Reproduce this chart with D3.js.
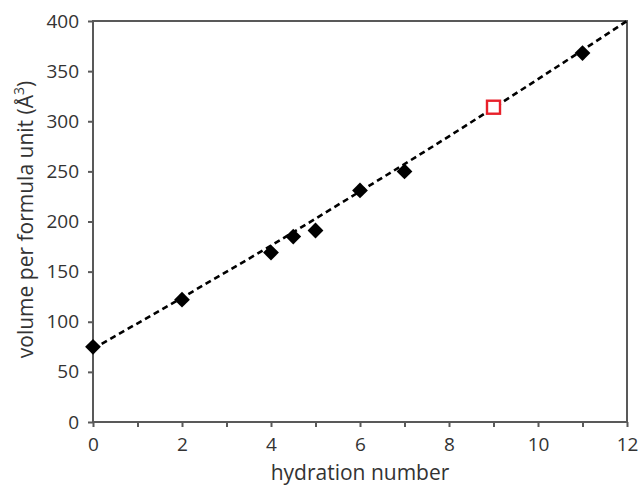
<!DOCTYPE html>
<html>
<head>
<meta charset="utf-8">
<script src="https://cdn.jsdelivr.net/npm/d3@7"></script>
<style>
  body { margin: 0; background: #fff; }
  text { font-family: "Open Sans", Lato, sans-serif; fill: #333; }
</style>
</head>
<body>
<div id="plot"></div>
<script>
// measured hydrates (hydration number vs volume per formula unit)
const hydration = [0, 2, 4, 4.5, 5, 6, 7, 11];
const volume    = [75, 122, 169, 185, 191, 231, 250, 368];

// predicted point (open red square)
const predX = [9];
const predY = [314];

// dashed fit curve
const fitX = [0, 2, 4, 6, 8, 10, 12];
const fitY = [73, 124, 176, 230, 285, 342, 400];

const xTicks = [0, 2, 4, 6, 8, 10, 12];
const yTicks = [0, 50, 100, 150, 200, 250, 300, 350, 400];

const margin = { top: 21, right: 11, bottom: 65, left: 93 },
    width  = 638 - margin.left - margin.right,
    height = 487 - margin.top - margin.bottom;

const svg = d3.select("#plot")
    .append("svg")
    .attr("width", 638)
    .attr("height", 487);

const g = svg.append("g")
    .attr("transform", `translate(${margin.left}, ${margin.top})`);

const x = d3.scaleLinear().domain([0, 12]).range([0, width]);
const y = d3.scaleLinear().domain([0, 400]).range([height, 0]);

const axisColor = "#595959";

// frame
g.append("rect")
    .attr("x", 0).attr("y", 0)
    .attr("width", width).attr("height", height)
    .attr("fill", "none")
    .attr("stroke", axisColor)
    .attr("stroke-width", 2);

// x axis: minor ticks every 1, labels on even numbers
const xAxis = g.append("g")
    .attr("transform", `translate(0, ${height})`)
    .call(d3.axisBottom(x)
        .tickValues(d3.range(0, 13, 1))
        .tickSize(5)
        .tickPadding(11)
        .tickFormat(d => xTicks.includes(d) ? d : ""));
xAxis.select(".domain").remove();
xAxis.selectAll("line").attr("stroke", axisColor).attr("stroke-width", 2);
xAxis.selectAll("text").style("font-size", "19px").attr("fill", "#333");

// y axis
const yAxis = g.append("g")
    .call(d3.axisLeft(y)
        .tickValues(yTicks)
        .tickSize(5)
        .tickPadding(9));
yAxis.select(".domain").remove();
yAxis.selectAll("line").attr("stroke", axisColor).attr("stroke-width", 2);
yAxis.selectAll("text").style("font-size", "19px").attr("fill", "#333");

// axis titles
g.append("text")
    .attr("x", width / 2)
    .attr("y", height + 58)
    .attr("text-anchor", "middle")
    .style("font-size", "21px")
    .text("hydration number");

const yTitle = g.append("text")
    .attr("transform", "rotate(-90)")
    .attr("x", -height / 2 + 2)
    .attr("y", -60)
    .attr("text-anchor", "middle")
    .style("font-size", "21px");
yTitle.append("tspan").text("volume per formula unit (Å");
yTitle.append("tspan").attr("dy", -9).style("font-size", "14px").text("3");
yTitle.append("tspan").attr("dy", 9).text(")");

// dashed fit line
const fitData = fitX.map((d, i) => ({ x: d, y: fitY[i] }));
g.append("path")
    .datum(fitData)
    .attr("fill", "none")
    .attr("stroke", "#000")
    .attr("stroke-width", 2.6)
    .attr("stroke-dasharray", "6,4")
    .attr("d", d3.line()
        .x(d => x(d.x))
        .y(d => y(d.y))
        .curve(d3.curveMonotoneX));

// diamonds
const diamond = d3.symbol().type(d3.symbolSquare).size(125);
g.selectAll(".pt")
    .data(hydration.map((d, i) => ({ x: d, y: volume[i] })))
    .enter()
    .append("path")
    .attr("class", "pt")
    .attr("d", diamond)
    .attr("transform", d => `translate(${x(d.x)}, ${y(d.y)}) rotate(45)`)
    .attr("fill", "#000");

// predicted point
g.selectAll(".pred")
    .data(predX.map((d, i) => ({ x: d, y: predY[i] })))
    .enter()
    .append("rect")
    .attr("class", "pred")
    .attr("x", d => x(d.x) - 6.5)
    .attr("y", d => y(d.y) - 6.5)
    .attr("width", 13)
    .attr("height", 13)
    .attr("fill", "#fff")
    .attr("stroke", "#e8202a")
    .attr("stroke-width", 2.4);
</script>
</body>
</html>
